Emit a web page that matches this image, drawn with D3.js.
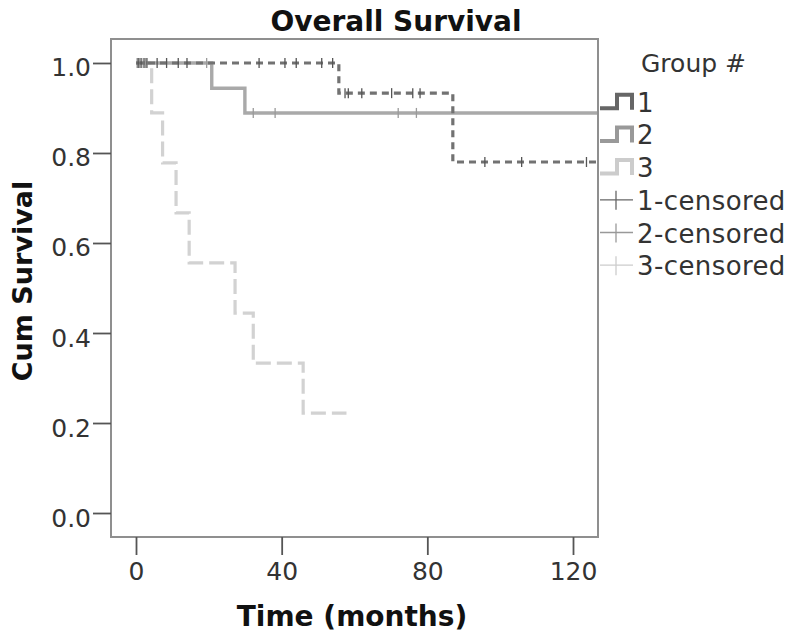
<!DOCTYPE html>
<html>
<head>
<meta charset="utf-8">
<script src="https://cdn.jsdelivr.net/npm/d3@7/dist/d3.min.js"></script>
<style>
  html, body { margin: 0; padding: 0; background: #fff; }
  svg { display: block; }
  text { font-family: "DejaVu Sans", Verdana, sans-serif; }
</style>
</head>
<body>
<svg id="chart" width="800" height="644"></svg>
<script>
// ---------------- data ----------------
const groups = ["1", "2", "3"];
const legendLabels = ["1", "2", "3", "1-censored", "2-censored", "3-censored"];
const xTicks = [0, 40, 80, 120];
const yTicks = [0.0, 0.2, 0.4, 0.6, 0.8, 1.0];

// step functions: event times (months) and survival after each step
const g1Time = [0, 55.7, 87.0];
const g1Surv = [1.0, 0.933, 0.78];
const g1End = 127;
const g1Censor = [0.6, 1.4, 2.2, 3.0, 5.8, 8.4, 11.6, 14.0, 33.8, 40.9, 44.0, 51.0, 54.0,
                  57.4, 58.3, 62.0, 70.2, 76.0, 78.0, 95.8, 105.9, 123.7];

const g2Time = [0, 20.8, 29.9];
const g2Surv = [1.0, 0.944, 0.889];
const g2End = 127;
const g2Censor = [0.3, 1.0, 2.6, 19.4, 32.2, 38.2, 72.0, 77.0];

const g3Time = [0, 4.3, 7.3, 11.0, 14.6, 27.2, 32.2, 45.9];
const g3Surv = [1.0, 0.889, 0.778, 0.667, 0.556, 0.444, 0.333, 0.222];
const g3End = 57.8;
const g3Censor = [0.8, 1.8];

// ---------------- layout ----------------
const svg = d3.select("#chart");
const frame = { left: 111, right: 598, top: 39, bottom: 537 };
const x = d3.scaleLinear().domain([-6.865, 126.865]).range([frame.left, frame.right]);
const y = d3.scaleLinear().domain([-0.0533, 1.0533]).range([frame.bottom, frame.top]);

const styles = [
  { color: "#727272", width: 3.2, dash: "7,5", censorColor: "#555" },
  { color: "#a9a9a9", width: 3.4, dash: null, censorColor: "#9a9a9a" },
  { color: "#d2d2d2", width: 3.2, dash: "15,6", censorColor: "#d0d0d0" }
];
const legendColors = ["#666666", "#999999", "#cccccc"];

// title
svg.append("text")
  .attr("x", 396).attr("y", 31)
  .attr("text-anchor", "middle")
  .attr("font-size", 28).attr("font-weight", "bold").attr("fill", "#111")
  .text("Overall Survival");

// clip
svg.append("clipPath").attr("id", "plotclip")
  .append("rect").attr("x", frame.left).attr("y", frame.top)
  .attr("width", frame.right - frame.left).attr("height", frame.bottom - frame.top);

// curves
function stepVal(times, surv, t) {
  let v = surv[0];
  for (let i = 0; i < times.length; i++) if (t >= times[i]) v = surv[i];
  return v;
}
const series = [
  { times: g1Time, surv: g1Surv, end: g1End, censor: g1Censor },
  { times: g2Time, surv: g2Surv, end: g2End, censor: g2Censor },
  { times: g3Time, surv: g3Surv, end: g3End, censor: g3Censor }
];
const line = d3.line().x(d => x(d[0])).y(d => y(d[1])).curve(d3.curveStepAfter);
const plot = svg.append("g").attr("clip-path", "url(#plotclip)");

// draw in order 3, 2, 1 so darker on top
[2, 1, 0].forEach(i => {
  const s = series[i];
  const pts = s.times.map((t, k) => [t, s.surv[k]]);
  pts.push([s.end, s.surv[s.surv.length - 1]]);
  plot.append("path")
    .attr("d", line(pts))
    .attr("fill", "none")
    .attr("stroke", styles[i].color)
    .attr("stroke-width", styles[i].width)
    .attr("stroke-dasharray", styles[i].dash)
    .attr("stroke-linejoin", "miter");
  plot.selectAll(null).data(s.censor).enter().append("line")
    .attr("x1", d => x(d)).attr("x2", d => x(d))
    .attr("y1", d => y(stepVal(s.times, s.surv, d)) - 5)
    .attr("y2", d => y(stepVal(s.times, s.surv, d)) + 5)
    .attr("stroke", styles[i].censorColor)
    .attr("stroke-width", 1.3);
});

// frame
svg.append("rect")
  .attr("x", frame.left).attr("y", frame.top)
  .attr("width", frame.right - frame.left).attr("height", frame.bottom - frame.top)
  .attr("fill", "none").attr("stroke", "#8f8f8f").attr("stroke-width", 2);

// axes
const yAxis = d3.axisLeft(y).tickValues(yTicks).tickFormat(d3.format(".1f")).tickSize(18).tickPadding(2);
const gy = svg.append("g").attr("transform", `translate(${frame.left},0)`).call(yAxis);
const xAxis = d3.axisBottom(x).tickValues(xTicks).tickFormat(d3.format("d")).tickSize(18).tickPadding(7);
const gx = svg.append("g").attr("transform", `translate(0,${frame.bottom})`).call(xAxis);
[gx, gy].forEach(g => {
  g.select(".domain").remove();
  g.selectAll(".tick line").attr("stroke", "#555").attr("stroke-width", 1.8);
  g.selectAll(".tick text").attr("font-size", 25).attr("fill", "#333")
    .attr("font-family", "DejaVu Sans, sans-serif");
});
gy.selectAll(".tick text").attr("dy", "0.52em");

// axis titles
svg.append("text")
  .attr("x", 352).attr("y", 626)
  .attr("text-anchor", "middle")
  .attr("font-size", 28).attr("font-weight", "bold").attr("fill", "#111")
  .text("Time (months)");
svg.append("text")
  .attr("transform", "translate(32,281) rotate(-90)")
  .attr("text-anchor", "middle")
  .attr("font-size", 27).attr("font-weight", "bold").attr("fill", "#111")
  .text("Cum Survival");

// legend
const leg = svg.append("g");
leg.append("text").attr("x", 641).attr("y", 72)
  .attr("font-size", 25).attr("fill", "#333").text("Group #");
legendLabels.forEach((lab, i) => {
  const base = 111.7 + i * 32.7;
  leg.append("text").attr("x", 637).attr("y", base)
    .attr("font-size", 26).attr("letter-spacing", 0.4).attr("fill", "#333").text(lab);
  if (i < 3) {
    leg.append("path")
      .attr("d", `M600,${base - 3.5}H617V${base - 17}H632V${base - 2}`)
      .attr("fill", "none").attr("stroke", legendColors[i]).attr("stroke-width", 4)
      .attr("stroke-linejoin", "miter");
  } else {
    const c = legendColors[i - 3];
    leg.append("line").attr("x1", 600).attr("x2", 633)
      .attr("y1", base - 10).attr("y2", base - 10)
      .attr("stroke", c).attr("stroke-width", 1.3);
    leg.append("line").attr("x1", 616).attr("x2", 616)
      .attr("y1", base - 19).attr("y2", base)
      .attr("stroke", c).attr("stroke-width", 1.3);
  }
});
</script>
</body>
</html>
